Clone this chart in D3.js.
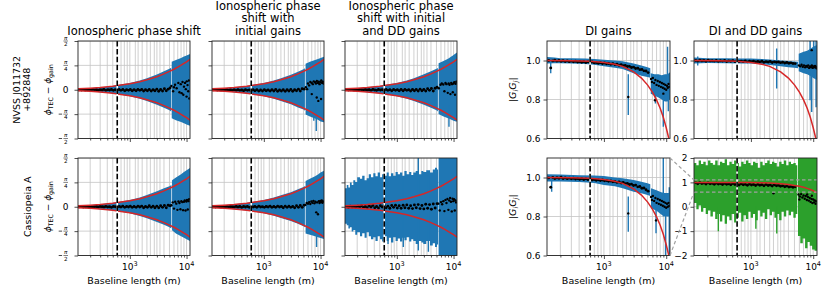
<!DOCTYPE html>
<html>
<head>
<meta charset="utf-8">
<script src="https://cdn.jsdelivr.net/npm/d3@7"></script>
<style>
body { margin: 0; background: #fff; overflow: hidden; }
svg { display: block; font-family: "DejaVu Sans", sans-serif; }
</style>
</head>
<body>
<svg id="fig" width="831" height="287"></svg>
<script>
// ---- data ----
const xDomain = [122, 11500];
const majorTicks = [1000, 10000];
const minorTicks = [200, 300, 400, 500, 600, 700, 800, 900, 2000, 3000, 4000, 5000, 6000, 7000, 8000, 9000];
const extraGrid = [1250, 1400, 1650, 2300, 2700, 3400];
const cutoff = 600;
const zoomRange = [0.6, 1.1];

const phaseTicks = [-Math.PI / 2, -Math.PI / 4, 0, Math.PI / 4, Math.PI / 2];
const phaseTickLabels = ['−π/2', '−π/4', '0', 'π/4', 'π/2'];
const ampTicks = [0.6, 0.8, 1.0];
const wideTicks = [-2, -1, 0, 1, 2];

const titles = [
  ['Ionospheric phase shift'],
  ['Ionospheric phase', 'shift with', 'initial gains'],
  ['Ionospheric phase', 'shift with initial', 'and DD gains'],
  ['DI gains'],
  ['DI and DD gains']
];
const rowNames = [['NVSS J011732', '+892848'], ['Cassiopeia A']];

// model curves (red)
const phaseModel = [[122, 0.03], [200, 0.05], [300, 0.07], [500, 0.11], [700, 0.15], [1000, 0.19], [1500, 0.26], [2000, 0.32], [3000, 0.42], [4000, 0.51], [5000, 0.59], [6000, 0.66], [7000, 0.73], [8000, 0.79], [9000, 0.85], [10000, 0.9], [11500, 0.98]];
const ampModel = [[122, 1.0], [300, 0.999], [600, 0.996], [1000, 0.99], [1500, 0.981], [2000, 0.97], [3000, 0.942], [4000, 0.91], [5000, 0.875], [6000, 0.838], [7000, 0.798], [8000, 0.755], [9000, 0.708], [10000, 0.655], [11000, 0.6], [11500, 0.575]];

// error-bar envelopes [baseline, low, high], null = gap in the data
const bandA = [[122, -0.03, 0.03], [150, -0.04, 0.04], [200, -0.05, 0.05], [300, -0.08, 0.08], [400, -0.1, 0.1], [500, -0.12, 0.12], [700, -0.16, 0.17], [1000, -0.21, 0.22], [1500, -0.29, 0.3], [2000, -0.36, 0.37], [3000, -0.48, 0.49], [4000, -0.58, 0.6], [5000, -0.66, 0.68], [5350, -0.7, 0.71], null, [5480, -0.92, 0.9], [6500, -0.98, 0.96], [8000, -1.04, 1.02], [9000, -1.08, 1.07], [10000, -1.12, 1.1], [11500, -1.16, 1.15]];
const bandB = [[122, -0.03, 0.03], [200, -0.05, 0.05], [300, -0.08, 0.08], [500, -0.12, 0.12], [700, -0.16, 0.17], [1000, -0.21, 0.22], [1500, -0.29, 0.3], [2000, -0.36, 0.37], [3000, -0.47, 0.48], [4000, -0.57, 0.58], [5000, -0.64, 0.66], [5300, -0.68, 0.69], null, [5450, -0.8, 0.84], [6500, -0.86, 0.9], [8000, -0.93, 0.96], [9000, -0.97, 0.99], [10000, -1.02, 1.02], [11500, -1.05, 1.06]];
const bandC = [[122, -0.03, 0.03], [200, -0.05, 0.05], [300, -0.08, 0.08], [500, -0.12, 0.12], [700, -0.16, 0.17], [1000, -0.21, 0.22], [1500, -0.29, 0.3], [2000, -0.36, 0.37], [3000, -0.48, 0.5], [4000, -0.58, 0.6], [5000, -0.66, 0.68], [5300, -0.7, 0.7], null, [5450, -0.78, 0.85], [6500, -0.85, 0.92], [8000, -0.92, 1.0], [9000, -0.96, 1.06], [10000, -1.0, 1.12], [11000, -1.02, 1.18], [11500, -1.02, 1.2]];
const bandD = [[122, 0.985, 1.018], [160, 0.986, 1.015], [200, 0.986, 1.012], [300, 0.984, 1.012], [500, 0.982, 1.01], [700, 0.978, 1.008], [1000, 0.97, 1.004], [1500, 0.963, 1.0], [2000, 0.956, 0.996], [3000, 0.935, 0.985], [4000, 0.922, 0.975], [5000, 0.915, 0.965], [5550, 0.912, 0.96], null, [5650, 0.83, 0.935], [6500, 0.82, 0.93], [7500, 0.81, 0.93], [8500, 0.8, 0.925], [9500, 0.79, 0.93], [10500, 0.79, 0.93], [11500, 0.8, 0.94]];
const bandE = [[122, 0.985, 1.015], [200, 0.987, 1.012], [400, 0.986, 1.012], [700, 0.985, 1.01], [1000, 0.984, 1.01], [1500, 0.981, 1.008], [2000, 0.977, 1.005], [3000, 0.97, 1.0], [4000, 0.966, 0.998], [5000, 0.963, 0.995], [5700, 0.96, 0.993], null, [5850, 0.945, 1.035], [7000, 0.935, 1.045], [8000, 0.93, 1.05], [9000, 0.92, 1.06], [10000, 0.91, 1.07], [11500, 0.9, 1.08]];
const bandF = [[122, -0.03, 0.03], [200, -0.05, 0.05], [300, -0.08, 0.08], [500, -0.12, 0.12], [700, -0.16, 0.17], [1000, -0.21, 0.22], [1500, -0.3, 0.3], [2000, -0.37, 0.38], [3000, -0.49, 0.5], [4000, -0.58, 0.6], [5000, -0.66, 0.66], [5400, -0.7, 0.7], null, [5550, -0.76, 0.85], [6500, -0.86, 0.94], [8000, -0.95, 1.05], [9000, -1.0, 1.12], [10000, -1.05, 1.18], [11500, -1.1, 1.25]];
const bandG = [[122, -0.03, 0.03], [200, -0.05, 0.05], [300, -0.08, 0.08], [500, -0.12, 0.12], [700, -0.16, 0.17], [1000, -0.21, 0.22], [1500, -0.29, 0.3], [2000, -0.36, 0.37], [3000, -0.46, 0.47], [4000, -0.55, 0.56], [5000, -0.63, 0.64], [5300, -0.66, 0.67], null, [5450, -0.86, 0.83], [6500, -0.9, 0.9], [8000, -0.95, 0.98], [9000, -0.98, 1.04], [10000, -1.01, 1.1], [11500, -1.04, 1.16]];
const bandH = [[122, -0.55, 0.6], [131, -0.6, 0.7], [140, -0.7, 0.62], [149, -0.66, 0.78], [160, -0.8, 0.7], [171, -0.75, 0.85], [185, -0.9, 0.8], [200, -0.82, 0.95], [224, -0.95, 0.9], [245, -0.85, 1.0], [270, -1.0, 0.85], [294, -0.82, 0.92], [320, -0.95, 1.05], [350, -1.05, 0.95], [385, -0.98, 1.08], [420, -1.1, 0.98], [460, -0.95, 1.1], [505, -1.05, 0.95], [550, -1.12, 1.05], [600, -0.95, 1.0], [662, -1.1, 1.1], [720, -1.0, 0.98], [790, -1.15, 1.08], [867, -0.98, 1.0], [950, -1.1, 1.12], [1040, -1.02, 1.05], [1137, -1.12, 1.1], [1250, -1.0, 1.0], [1360, -1.08, 1.15], [1492, -0.98, 1.05], [1650, -1.12, 1.12], [1800, -1.05, 1.02], [1950, -1.1, 1.1], [2150, -1.2, 1.15], [2450, -1.1, 1.05], [2700, -1.15, 1.15], [2930, -1.2, 1.12], [3300, -1.1, 1.18], [3846, -1.25, 1.1], [4300, -1.18, 1.2], [4710, -1.3, 1.26], [5100, -1.22, 1.2], [5330, -1.22, 1.2], null, [5450, -1.6, 1.6], [11500, -1.6, 1.6]];
const bandI = [[122, 0.979, 1.017], [200, 0.979, 1.015], [400, 0.977, 1.012], [700, 0.972, 1.01], [1000, 0.962, 1.008], [1500, 0.955, 1.0], [2000, 0.945, 0.996], [3000, 0.927, 0.987], [4000, 0.919, 0.978], [5000, 0.91, 0.97], [5550, 0.905, 0.965], null, [5700, 0.842, 0.945], [7000, 0.83, 0.935], [8300, 0.81, 0.925], [9500, 0.8, 0.92], [11500, 0.8, 0.92]];
const bandJ = [[122, 0.15, 1.8], [133, -0.1, 1.7], [145, 0.05, 1.9], [158, -0.2, 1.75], [172, -0.05, 1.85], [188, -0.3, 1.7], [205, -0.15, 1.9], [224, -0.4, 1.8], [245, -0.2, 1.72], [267, -0.5, 1.9], [292, -0.3, 1.7], [318, -0.6, 1.85], [347, -0.35, 1.8], [379, -0.7, 1.95], [413, -0.4, 1.7], [451, -0.55, 1.85], [492, -0.3, 1.75], [537, -0.65, 1.9], [586, -0.45, 1.8], [640, -0.25, 1.65], [698, -0.6, 1.85], [762, -0.35, 1.75], [832, -0.5, 1.9], [908, -0.2, 1.8], [991, -0.45, 1.7], [1080, -0.3, 1.85], [1180, -0.55, 1.8], [1290, -0.15, 1.6], [1410, -0.4, 1.85], [1540, -0.25, 1.7], [1680, -0.5, 1.8], [1830, -0.1, 1.9], [2000, -0.35, 1.75], [2180, -0.2, 1.85], [2380, -0.45, 1.8], [2600, -0.3, 1.65], [2840, -0.55, 1.85], [3100, -0.2, 1.75], [3380, -0.4, 1.9], [3690, -0.15, 1.7], [4030, -0.35, 1.85], [4400, -0.2, 1.75], [4800, -0.45, 1.8], [5240, -0.3, 1.7], [5550, -0.3, 1.7], null, [5700, -1.2, 2.1], [6200, -1.5, 2.1], [6800, -1.3, 2.1], [7400, -1.7, 2.1], [8100, -1.45, 2.1], [8800, -1.6, 2.1], [9600, -1.75, 2.1], [10500, -1.8, 2.1], [11500, -1.8, 2.1]];

// single error bars sticking out of the envelope [baseline, low, high]
const spikesB = [[8400, -1.33, -0.5], [7600, -1.0, -0.5]];
const spikesC = [[8300, -1.19, -0.5]];
const spikesD = [[140, 0.935, 1.0], [2460, 0.72, 0.93], [6700, 0.78, 0.9], [8980, 0.66, 0.88], [10800, 0.74, 0.88], [10500, 0.9, 1.07]];
const spikesE = [[140, 0.975, 1.02], [2590, 0.856, 1.062], [8900, 0.796, 1.1], [9450, 0.736, 1.0], [11100, 0.76, 1.1], [10200, 0.95, 1.1]];
const spikesG = [[8500, -1.3, -0.6]];
const spikesH = [[2393, -1.41, 1.57], [700, -1.2, 0.9], [1300, -1.3, 0.9], [3600, -1.45, 1.0]];
const spikesI = [[145, 0.927, 1.0], [2460, 0.722, 0.902], [6860, 0.714, 0.85], [8980, 0.8, 1.1], [9760, 0.6, 0.85], [11200, 0.6, 0.95]];
const spikesJ = [[300, -1.0, 0.0], [1200, -0.9, 0.0], [2600, -1.1, 0.0]];

// black points: dense strip on shared baselines, then scattered points
const stripBase = [130, 140, 151, 163, 176, 190, 205, 221, 239, 258, 278, 300, 324, 350, 378, 408, 440, 475, 513, 554, 598, 646, 697, 753, 813, 878, 948, 1020, 1100, 1190, 1290, 1390, 1500, 1620, 1750, 1890, 2040, 2200, 2380, 2570, 2770, 2990, 3230, 3490, 3770, 4070, 4390, 4740, 5120];
const stripA = [0.00, -0.01, 0.01, -0.01, 0.00, 0.01, -0.01, 0.01, -0.01, 0.00, -0.02, 0.00, -0.01, 0.01, -0.02, 0.00, -0.01, 0.01, -0.02, 0.00, -0.02, 0.01, -0.02, 0.01, -0.03, 0.00, -0.02, 0.01, -0.03, 0.00, -0.03, 0.01, -0.02, 0.01, -0.04, 0.00, -0.03, 0.01, -0.04, 0.00, -0.03, 0.02, -0.05, 0.01, -0.04, 0.03, -0.03, 0.02, 0.06];
const stripB = [0.00, 0.01, -0.01, 0.00, -0.01, 0.01, -0.01, 0.01, -0.02, 0.00, -0.02, 0.00, -0.02, 0.00, -0.02, -0.01, -0.03, 0.00, -0.02, -0.01, -0.03, 0.00, -0.03, 0.00, -0.04, -0.01, -0.04, 0.00, -0.03, -0.01, -0.04, 0.00, -0.04, 0.01, -0.05, -0.01, -0.04, 0.00, -0.05, 0.00, -0.04, 0.01, -0.05, 0.00, -0.03, 0.02, -0.04, 0.03, 0.02];
const stripC = [0.01, -0.01, 0.00, 0.01, -0.01, 0.00, -0.01, 0.01, 0.00, -0.01, 0.01, -0.01, 0.00, -0.02, 0.01, -0.01, -0.02, 0.01, -0.01, 0.00, -0.02, 0.01, -0.02, 0.00, -0.03, 0.01, -0.02, 0.00, -0.03, 0.01, -0.03, 0.01, -0.02, 0.00, -0.04, 0.01, -0.03, 0.01, -0.04, 0.02, -0.03, 0.01, -0.04, 0.03, -0.02, 0.04, -0.04, 0.05, 0.08];
const stripD = [1.000, 0.962, 0.998, 1.001, 0.997, 1.000, 0.996, 0.999, 0.995, 0.998, 0.994, 0.997, 0.993, 0.996, 0.992, 0.995, 0.991, 0.994, 0.990, 0.993, 0.989, 0.992, 0.988, 0.990, 0.986, 0.989, 0.985, 0.987, 0.983, 0.985, 0.981, 0.983, 0.979, 0.981, 0.976, 0.978, 0.973, 0.975, 0.969, 0.970, 0.964, 0.966, 0.959, 0.960, 0.953, 0.954, 0.947, 0.946, 0.938];
const stripE = [1.000, 0.997, 1.001, 0.998, 1.000, 0.996, 1.001, 0.998, 0.999, 0.997, 1.000, 0.996, 0.999, 0.997, 1.000, 0.995, 0.998, 0.996, 0.999, 0.994, 0.998, 0.995, 0.997, 0.994, 0.998, 0.993, 0.996, 0.994, 0.997, 0.992, 0.995, 0.993, 0.996, 0.991, 0.994, 0.992, 0.995, 0.990, 0.993, 0.991, 0.992, 0.989, 0.991, 0.987, 0.990, 0.986, 0.988, 0.985, 0.984];
const stripF = [0.00, 0.01, -0.01, 0.00, 0.01, -0.01, 0.00, -0.01, 0.00, 0.01, -0.01, 0.01, 0.00, -0.01, 0.01, -0.01, 0.00, -0.02, 0.01, 0.00, -0.02, 0.01, -0.01, 0.02, -0.02, 0.01, -0.01, 0.02, -0.02, 0.01, -0.02, 0.02, -0.01, 0.02, -0.03, 0.01, -0.02, 0.03, -0.02, 0.02, -0.03, 0.02, -0.03, 0.03, -0.02, 0.04, -0.03, 0.05, 0.03];
const stripG = [0.00, -0.01, 0.01, 0.00, -0.01, 0.01, -0.01, 0.01, -0.01, 0.01, 0.00, -0.01, 0.01, -0.01, 0.01, -0.02, 0.01, -0.01, 0.01, -0.02, 0.01, -0.01, 0.01, -0.02, 0.02, -0.01, 0.00, -0.02, 0.01, -0.01, 0.02, -0.02, 0.01, -0.02, 0.02, -0.01, 0.01, -0.03, 0.02, -0.02, 0.02, -0.02, 0.01, -0.03, 0.03, -0.02, 0.04, -0.02, 0.05];
const stripH = [0.01, -0.02, 0.02, -0.01, 0.01, -0.02, 0.02, -0.01, 0.03, -0.02, 0.01, -0.03, 0.03, -0.01, 0.04, -0.03, 0.01, -0.04, 0.03, -0.01, 0.05, -0.03, 0.02, -0.05, 0.04, -0.02, 0.05, -0.04, 0.03, -0.05, 0.05, -0.03, 0.06, -0.05, 0.03, -0.06, 0.06, -0.03, 0.07, -0.06, 0.04, -0.07, 0.08, -0.05, 0.07, -0.08, 0.09, -0.04, 0.10];
const stripI = [0.998, 0.950, 1.000, 0.995, 0.999, 0.996, 1.001, 0.995, 0.998, 0.994, 0.997, 0.993, 0.996, 0.992, 0.995, 0.991, 0.994, 0.990, 0.993, 0.989, 0.991, 0.987, 0.990, 0.986, 0.988, 0.984, 0.987, 0.983, 0.985, 0.981, 0.982, 0.978, 0.980, 0.975, 0.977, 0.972, 0.974, 0.968, 0.970, 0.964, 0.966, 0.959, 0.961, 0.952, 0.954, 0.945, 0.946, 0.937, 0.930];
const stripJ = [0.98, 0.94, 0.99, 0.95, 0.97, 0.93, 0.98, 0.94, 0.96, 0.92, 0.97, 0.93, 0.95, 0.91, 0.96, 0.92, 0.94, 0.90, 0.95, 0.91, 0.93, 0.89, 0.94, 0.90, 0.92, 0.88, 0.93, 0.89, 0.91, 0.87, 0.92, 0.88, 0.90, 0.86, 0.91, 0.87, 0.89, 0.85, 0.90, 0.86, 0.88, 0.84, 0.86, 0.82, 0.85, 0.81, 0.83, 0.80, 0.82];

const ptsA = [[5400, 0.12], [5800, -0.05], [6000, 0.08], [6260, 0.16], [6700, 0.05], [7160, 0.22], [7500, -0.08], [7900, 0.18], [8200, -0.11], [8500, 0.25], [8770, -0.16], [9000, 0.1], [9400, 0.22], [9700, 0.02], [10000, -0.22], [10060, 0.27], [10400, 0.15], [10700, -0.05], [11000, 0.3], [11200, -0.28]];
const ptsB = [[5500, 0.08], [5800, 0.02], [6000, 0.2], [6300, 0.14], [6600, 0.25], [7000, 0.22], [7000, -0.14], [7300, 0.18], [7600, 0.27], [8000, 0.24], [8300, 0.2], [8560, -0.25], [8600, 0.28], [9000, 0.22], [9130, -0.36], [9300, 0.26], [9600, 0.18], [10000, 0.24], [10200, -0.3], [10300, 0.3], [10700, 0.22], [11000, 0.26], [11300, 0.2]];
const ptsC = [[5500, 0.05], [5900, 0.16], [6200, 0.2], [6600, 0.17], [6900, -0.05], [7200, 0.22], [7500, 0.18], [7900, -0.1], [8200, 0.2], [8500, 0.16], [8800, -0.14], [9100, 0.22], [9400, 0.18], [9700, -0.08], [10000, 0.2], [10300, 0.24], [10600, -0.16], [10900, 0.19], [11200, 0.26]];
const ptsD = [[2460, 0.813], [5700, 0.905], [5900, 0.89], [6100, 0.91], [6400, 0.885], [6610, 0.796], [6700, 0.9], [7000, 0.875], [7300, 0.895], [7600, 0.87], [7900, 0.89], [8200, 0.865], [8500, 0.885], [8800, 0.86], [9000, 0.83], [9100, 0.88], [9400, 0.855], [9700, 0.875], [10000, 0.85], [10300, 0.87], [10600, 0.86], [10900, 0.88], [11200, 0.865]];
const ptsE = [[5900, 0.975], [6200, 0.97], [6500, 0.978], [6800, 0.968], [7100, 0.975], [7400, 0.965], [7700, 0.972], [8000, 0.968], [8300, 0.975], [8600, 0.962], [8900, 0.97], [9200, 0.966], [9450, 1.053], [9500, 0.974], [9800, 0.962], [10100, 0.97], [10400, 0.965], [10700, 0.972], [11000, 0.968], [11300, 0.96]];
const ptsF = [[5400, 0.05], [5700, 0.14], [6000, -0.06], [6300, 0.16], [6600, 0.1], [6900, -0.1], [7200, 0.17], [7500, 0.12], [7800, -0.08], [8100, 0.18], [8400, 0.15], [8700, -0.11], [9000, 0.16], [9300, 0.2], [9600, -0.12], [9900, 0.17], [10200, 0.22], [10500, -0.09], [10800, 0.18], [11100, 0.24]];
const ptsG = [[5400, 0.06], [5700, 0.12], [6000, 0.1], [6300, 0.15], [6600, 0.09], [6900, 0.17], [7200, 0.13], [7500, 0.19], [7800, 0.11], [8100, 0.16], [8400, -0.18], [8700, 0.14], [9000, -0.24], [9300, 0.18], [9600, 0.12], [9900, 0.19], [10200, 0.15], [10500, 0.2], [10800, 0.13], [11100, 0.17]];
const ptsH = [[5400, 0.1], [5700, -0.12], [6000, 0.15], [6300, 0.08], [6600, 0.18], [6900, -0.14], [7200, 0.22], [7500, 0.12], [7800, 0.25], [8100, -0.1], [8400, 0.2], [8700, 0.28], [9000, 0.16], [9300, -0.15], [9600, 0.26], [9900, 0.18], [10200, 0.24], [10500, -0.12], [10800, 0.2], [11100, 0.14]];
const ptsI = [[2460, 0.816], [5700, 0.9], [5900, 0.885], [6100, 0.905], [6400, 0.88], [6700, 0.895], [6860, 0.78], [7000, 0.87], [7300, 0.89], [7600, 0.865], [7900, 0.885], [8200, 0.86], [8500, 0.88], [8800, 0.855], [9100, 0.875], [9400, 0.85], [9700, 0.87], [10000, 0.845], [10300, 0.865], [10600, 0.85], [10900, 0.87], [11200, 0.855]];
const ptsJ = [[2300, 0.55], [5800, 0.5], [6000, 0.3], [6100, 0.42], [6400, 0.52], [6700, 0.38], [7000, 0.46], [7300, 0.33], [7600, 0.44], [7900, 0.28], [8000, 0.5], [8200, 0.4], [8500, 0.25], [8800, 0.36], [9100, 0.2], [9400, 0.32], [9500, 0.45], [9700, 0.15], [10000, 0.3], [10300, 0.18], [10600, 0.26], [10900, 0.12], [11200, 0.22]];

// ---- layout ----
const blue = '#1f77b4', green = '#2ca02c', red = '#d62728', gridColor = '#c4c4c4';
const cols = [{ x: 78, w: 112 }, { x: 212, w: 112 }, { x: 345, w: 112 }, { x: 547, w: 123 }, { x: 694, w: 123 }];
const rows = [{ y: 41, h: 97.5 }, { y: 158, h: 97.5 }];
const yDomains = { phase: [-Math.PI / 2, Math.PI / 2], amp: [0.6, 1.1], wide: [-2, 2] };
const yTicks = { phase: phaseTicks, amp: ampTicks, wide: wideTicks };

const panels = [
  { r: 0, c: 0, kind: 'phase', band: bandA, spikes: [], strip: stripA, pts: ptsA },
  { r: 0, c: 1, kind: 'phase', band: bandB, spikes: spikesB, strip: stripB, pts: ptsB },
  { r: 0, c: 2, kind: 'phase', band: bandC, spikes: spikesC, strip: stripC, pts: ptsC },
  { r: 0, c: 3, kind: 'amp', band: bandD, spikes: spikesD, strip: stripD, pts: ptsD },
  { r: 0, c: 4, kind: 'amp', band: bandE, spikes: spikesE, strip: stripE, pts: ptsE },
  { r: 1, c: 0, kind: 'phase', band: bandF, spikes: [], strip: stripF, pts: ptsF },
  { r: 1, c: 1, kind: 'phase', band: bandG, spikes: spikesG, strip: stripG, pts: ptsG },
  { r: 1, c: 2, kind: 'phase', band: bandH, spikes: spikesH, strip: stripH, pts: ptsH, step: true },
  { r: 1, c: 3, kind: 'amp', band: bandI, spikes: spikesI, strip: stripI, pts: ptsI },
  { r: 1, c: 4, kind: 'wide', band: bandJ, spikes: spikesJ, strip: stripJ, pts: ptsJ, step: true, fill: green }
];

const svg = d3.select('#fig');
const defs = svg.append('defs');
const scales = {};

panels.forEach((p, i) => {
  const { x, w } = cols[p.c];
  const { y, h } = rows[p.r];
  const xs = d3.scaleLog().domain(xDomain).range([x, x + w]);
  const ys = d3.scaleLinear().domain(yDomains[p.kind]).range([y + h, y]);
  scales[p.r + '-' + p.c] = ys;
  const fill = p.fill || blue;

  defs.append('clipPath').attr('id', 'clip' + i)
    .append('rect').attr('x', x).attr('y', y).attr('width', w).attr('height', h);

  const g = svg.append('g');
  const plot = g.append('g').attr('clip-path', `url(#clip${i})`);

  // grid
  plot.selectAll('line.vgrid')
    .data(minorTicks.concat(majorTicks, extraGrid))
    .join('line')
    .attr('class', 'vgrid')
    .attr('x1', d => xs(d)).attr('x2', d => xs(d))
    .attr('y1', y).attr('y2', y + h)
    .attr('stroke', gridColor).attr('stroke-width', 0.8);

  plot.selectAll('line.hgrid')
    .data(yTicks[p.kind])
    .join('line')
    .attr('class', 'hgrid')
    .attr('x1', x).attr('x2', x + w)
    .attr('y1', d => ys(d)).attr('y2', d => ys(d))
    .attr('stroke', gridColor).attr('stroke-width', 0.8);

  // error bars: envelope + single bars
  const area = d3.area()
    .defined(d => d !== null)
    .x(d => xs(d[0]))
    .y0(d => ys(d[1]))
    .y1(d => ys(d[2]))
    .curve(p.step ? d3.curveStepAfter : d3.curveLinear);

  plot.append('path')
    .datum(p.band)
    .attr('d', area)
    .attr('fill', fill);

  plot.selectAll('line.spike')
    .data(p.spikes)
    .join('line')
    .attr('class', 'spike')
    .attr('x1', d => xs(d[0])).attr('x2', d => xs(d[0]))
    .attr('y1', d => ys(d[1])).attr('y2', d => ys(d[2]))
    .attr('stroke', fill).attr('stroke-width', 1.4);

  // points
  plot.selectAll('circle.strip')
    .data(stripBase.map((b, k) => [b, p.strip[k]]))
    .join('circle')
    .attr('class', 'strip')
    .attr('cx', d => xs(d[0])).attr('cy', d => ys(d[1]))
    .attr('r', 1.45).attr('fill', '#000');

  plot.selectAll('circle.pt')
    .data(p.pts)
    .join('circle')
    .attr('class', 'pt')
    .attr('cx', d => xs(d[0])).attr('cy', d => ys(d[1]))
    .attr('r', 1.2).attr('fill', '#000');

  // model curves
  const line = d3.line().x(d => xs(d[0])).y(d => ys(d[1]));
  if (p.kind === 'phase') {
    [1, -1].forEach(sgn => {
      plot.append('path')
        .datum(phaseModel.map(d => [d[0], sgn * d[1]]))
        .attr('d', line)
        .attr('fill', 'none').attr('stroke', red).attr('stroke-width', 1.5);
    });
  } else {
    plot.append('path')
      .datum(ampModel)
      .attr('d', line)
      .attr('fill', 'none').attr('stroke', red).attr('stroke-width', 1.5);
  }

  if (p.kind === 'wide') {
    plot.selectAll('line.zoom')
      .data(zoomRange)
      .join('line')
      .attr('class', 'zoom')
      .attr('x1', x).attr('x2', x + w)
      .attr('y1', d => ys(d)).attr('y2', d => ys(d))
      .attr('stroke', '#a0a0a0').attr('stroke-width', 1.2)
      .attr('stroke-dasharray', '3.5,2.5');
  }

  // cutoff baseline
  plot.append('line')
    .attr('x1', xs(cutoff)).attr('x2', xs(cutoff))
    .attr('y1', y).attr('y2', y + h)
    .attr('stroke', '#fff').attr('stroke-width', 1.6);
  plot.append('line')
    .attr('x1', xs(cutoff)).attr('x2', xs(cutoff))
    .attr('y1', y).attr('y2', y + h)
    .attr('stroke', '#000').attr('stroke-width', 1.6)
    .attr('stroke-dasharray', '5.5,2.4');

  // frame
  g.append('rect')
    .attr('x', x).attr('y', y).attr('width', w).attr('height', h)
    .attr('fill', 'none').attr('stroke', '#222').attr('stroke-width', 0.9);

  // axes ticks
  const styleAxis = a => {
    a.select('.domain').remove();
    a.attr('color', '#222');
    a.selectAll('line').attr('stroke-width', 0.8);
  };
  g.append('g').attr('transform', `translate(0,${y + h})`)
    .call(d3.axisBottom(xs).tickValues(majorTicks).tickSize(3.5).tickFormat(''))
    .call(styleAxis);
  g.append('g').attr('transform', `translate(0,${y + h})`)
    .call(d3.axisBottom(xs).tickValues(minorTicks).tickSize(2).tickFormat(''))
    .call(styleAxis);
  g.append('g').attr('transform', `translate(${x},0)`)
    .call(d3.axisLeft(ys).tickValues(yTicks[p.kind]).tickSize(3.5).tickFormat(''))
    .call(styleAxis);

  // x tick labels on bottom row
  if (p.r === 1) {
    majorTicks.forEach(v => {
      const t = g.append('text')
        .attr('x', xs(v)).attr('y', y + h + 14.5)
        .attr('text-anchor', 'middle')
        .style('font-size', '9px');
      t.append('tspan').text('10');
      t.append('tspan').attr('dy', -3.6).style('font-size', '6.5px').text(Math.round(Math.log10(v)));
    });
    g.append('text')
      .attr('x', x + w / 2).attr('y', 283.5)
      .attr('text-anchor', 'middle')
      .style('font-size', '9.5px')
      .text('Baseline length (m)');
  }

  // y tick labels
  if (p.kind === 'phase' && p.c === 0) {
    phaseTicks.forEach((v, k) => drawPhaseLabel(g, x - 12.3, ys(v), phaseTickLabels[k]));
  }
  if (p.kind === 'amp') {
    ampTicks.forEach(v => {
      g.append('text').attr('x', x - 6.5).attr('y', ys(v)).attr('dy', '0.35em')
        .attr('text-anchor', 'end').style('font-size', '9px')
        .text(d3.format('.1f')(v));
    });
  }
  if (p.kind === 'wide') {
    wideTicks.forEach(v => {
      g.append('text').attr('x', x - 6.5).attr('y', ys(v)).attr('dy', '0.35em')
        .attr('text-anchor', 'end').style('font-size', '9px')
        .text(v < 0 ? '−' + (-v) : String(v));
    });
  }

  // titles on top row
  if (p.r === 0) {
    const lines = titles[p.c];
    lines.forEach((s, k) => {
      g.append('text')
        .attr('x', x + w / 2).attr('y', 35 - (lines.length - 1 - k) * 12.6)
        .attr('text-anchor', 'middle')
        .style('font-size', '11.5px')
        .text(s);
    });
  }

  // y axis labels
  if (p.c === 0) {
    const cy = y + h / 2;
    const t = svg.append('text')
      .attr('transform', `translate(51,${cy}) rotate(-90)`)
      .attr('text-anchor', 'middle').style('font-size', '9px');
    t.append('tspan').style('font-style', 'italic').text('ϕ');
    t.append('tspan').attr('dy', 2.2).style('font-size', '6.3px').text('TEC');
    t.append('tspan').attr('dy', -2.2).text(' − ');
    t.append('tspan').style('font-style', 'italic').text('ϕ');
    t.append('tspan').attr('dy', 2.2).style('font-size', '6.3px').text('gain');

    const names = rowNames[p.r];
    const baseX = names.length === 2 ? 19.5 : 30.5;
    names.forEach((s, k) => {
      svg.append('text')
        .attr('transform', `translate(${baseX + k * 10},${cy}) rotate(-90)`)
        .attr('text-anchor', 'middle').style('font-size', '9.5px')
        .text(s);
    });
  }
  if (p.c === 3) {
    const t = svg.append('text')
      .attr('transform', `translate(515.5,${y + h / 2}) rotate(-90)`)
      .attr('text-anchor', 'middle').style('font-size', '9.5px');
    t.append('tspan').text('|');
    t.append('tspan').style('font-style', 'italic').text('G');
    t.append('tspan').attr('dy', 2.2).style('font-style', 'italic').style('font-size', '6.5px').text('i');
    t.append('tspan').attr('dy', -2.2).style('font-style', 'italic').text('G');
    t.append('tspan').attr('dy', 2.2).style('font-style', 'italic').style('font-size', '6.5px').text('j');
    t.append('tspan').attr('dy', -2.2).text('|');
  }
});

// zoom connectors from the DI panel to the wide-range panel
const leftYs = scales['1-3'], rightYs = scales['1-4'];
const lx = cols[3].x + cols[3].w, rx = cols[4].x;
svg.selectAll('line.connector')
  .data(zoomRange)
  .join('line')
  .attr('class', 'connector')
  .attr('x1', lx).attr('y1', d => leftYs(d))
  .attr('x2', rx).attr('y2', d => rightYs(d))
  .attr('stroke', '#a0a0a0').attr('stroke-width', 1.2)
  .attr('stroke-dasharray', '3.5,2.5');

function drawPhaseLabel(g, cx, cy, label) {
  if (label === '0') {
    g.append('text').attr('x', cx).attr('y', cy).attr('dy', '0.35em')
      .attr('text-anchor', 'middle').style('font-size', '9px').text('0');
    return;
  }
  const neg = label.startsWith('−');
  const [num, den] = label.replace('−', '').split('/');
  g.append('text').attr('x', cx).attr('y', cy - 1.2)
    .attr('text-anchor', 'middle').style('font-size', '5.6px').style('font-style', 'italic').text(num);
  g.append('line').attr('x1', cx - 2.3).attr('x2', cx + 2.3).attr('y1', cy).attr('y2', cy)
    .attr('stroke', '#000').attr('stroke-width', 0.5);
  g.append('text').attr('x', cx).attr('y', cy + 5.2)
    .attr('text-anchor', 'middle').style('font-size', '5.6px').text(den);
  if (neg) {
    g.append('line').attr('x1', cx - 7).attr('x2', cx - 3.6).attr('y1', cy).attr('y2', cy)
      .attr('stroke', '#000').attr('stroke-width', 0.7);
  }
}
</script>
</body>
</html>
